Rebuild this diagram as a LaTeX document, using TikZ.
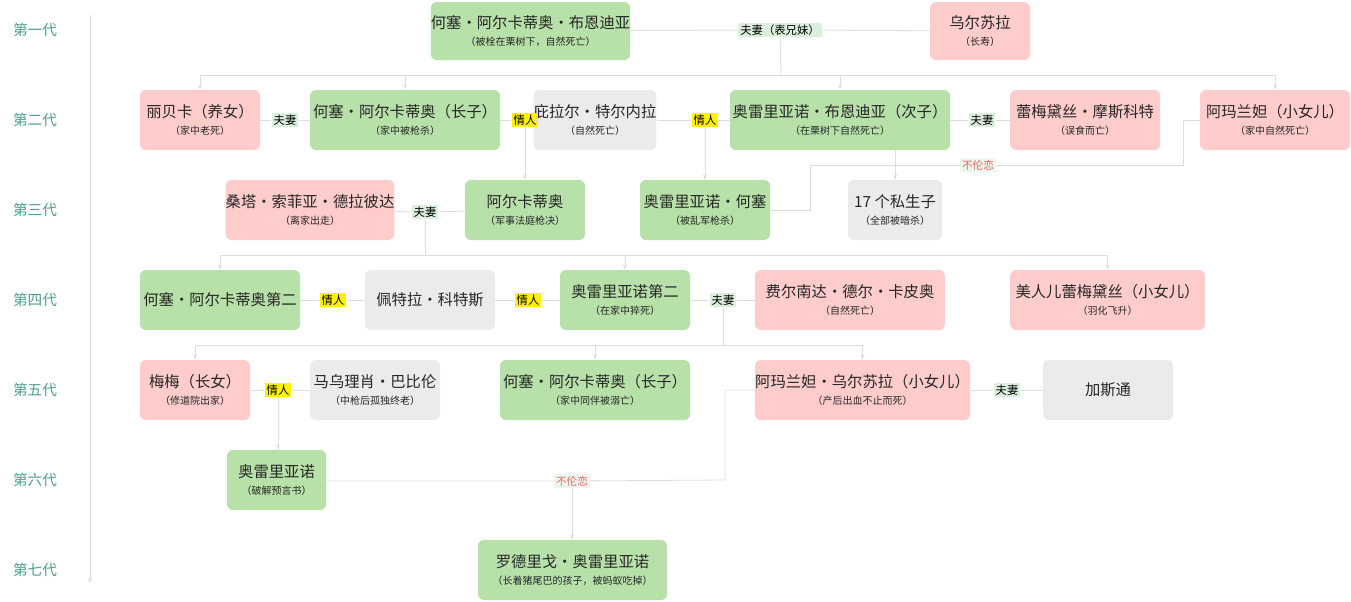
\documentclass[tikz,border=0pt]{standalone}
\usepackage{fontspec}
\setmainfont{Noto Sans CJK SC}
\usetikzlibrary{arrows.meta}
\definecolor{gn}{HTML}{B7E1A8}
\definecolor{pk}{HTML}{FFCCCC}
\definecolor{gy}{HTML}{EBEBEB}
\definecolor{ln}{HTML}{DDDDDD}
\definecolor{gen}{HTML}{4E9E8E}
\definecolor{mlbg}{HTML}{DCEEDC}
\definecolor{yl}{HTML}{FFF200}
\definecolor{rd}{HTML}{E06666}
\newcommand{\bx}[8]{\node[boxy,fill=#6,minimum width={(#4-#2)*0.75pt},minimum height={(#5-#3)*0.75pt}] (#1) at ({(#2+#4)/2},{(#3+#5)/2}) {\fontsize{11.5}{14}\selectfont #7\\[1pt]\fontsize{7.5}{9}\selectfont #8};}
\newcommand{\bxone}[7]{\node[boxy,fill=#6,minimum width={(#4-#2)*0.75pt},minimum height={(#5-#3)*0.75pt}] (#1) at ({(#2+#4)/2},{(#3+#5)/2}) {\fontsize{11.5}{14}\selectfont #7};}
\tikzset{
  boxy/.style={rounded corners=4.5pt,align=center,inner sep=0pt,text=black!85},
  ln/.style={draw=ln,line width=0.6pt},
  arr/.style={ln,-{Stealth[length=4pt,width=3pt]}},
  ml/.style={fill=mlbg,inner sep=1.5pt,font=\fontsize{8.5}{10}\selectfont},
  lv/.style={fill=yl,inner sep=1.5pt,font=\fontsize{8.5}{10}\selectfont},
  ic/.style={fill=mlbg!50,text=rd,inner sep=1.5pt,font=\fontsize{8}{10}\selectfont},
  gl/.style={text=gen,font=\fontsize{11}{13}\selectfont}
}
\begin{document}
\begin{tikzpicture}[x=0.75pt,y=-0.75pt]
\useasboundingbox[fill=white] (0,0) rectangle (1351,601);
% generation axis
\coordinate (ax1) at (90,15); \coordinate (ax2) at (90,583);
\draw[arr] (ax1) -- (ax2);
\foreach \t/\y in {第一代/30,第二代/120,第三代/210,第四代/300,第五代/390,第六代/480,第七代/570}
  \node[gl] at (35,\y) {\t};
% gen1
\bx{a}{431}{2}{630}{60}{gn}{何塞·阿尔卡蒂奥·布恩迪亚}{（被栓在栗树下，自然死亡）}
\bx{u}{930}{2}{1030}{60}{pk}{乌尔苏拉}{（长寿）}
% gen2
\bx{rb}{140}{90}{260}{150}{pk}{丽贝卡（养女）}{（家中老死）}
\bx{ja}{310}{90}{500}{150}{gn}{何塞·阿尔卡蒂奥（长子）}{（家中被枪杀）}
\bx{pt}{550}{90}{640}{150}{gy}{庇拉尔·特尔内拉}{（自然死亡）}
\bx{ab}{730}{90}{950}{150}{gn}{奥雷里亚诺·布恩迪亚（次子）}{（在栗树下自然死亡）}
\bx{rm}{1010}{90}{1160}{150}{pk}{蕾梅黛丝·摩斯科特}{（误食而亡）}
\bx{am}{1200}{90}{1350}{150}{pk}{阿玛兰妲（小女儿）}{（家中自然死亡）}
% gen3
\bx{st}{230}{180}{390}{240}{pk}{桑塔·索菲亚·德拉彼达}{（离家出走）}
\bx{ar}{465}{180}{585}{240}{gn}{阿尔卡蒂奥}{（军事法庭枪决）}
\bx{aj}{640}{180}{770}{240}{gn}{奥雷里亚诺·何塞}{（被乱军枪杀）}
\bx{s17}{848}{180}{942}{240}{gy}{17 个私生子}{（全部被暗杀）}
% gen4
\bxone{j2}{140}{270}{300}{330}{gn}{何塞·阿尔卡蒂奥第二}
\bxone{pc}{365}{270}{495}{330}{gy}{佩特拉·科特斯}
\bx{a2}{560}{270}{690}{330}{gn}{奥雷里亚诺第二}{（在家中猝死）}
\bx{fd}{755}{270}{945}{330}{pk}{费尔南达·德尔·卡皮奥}{（自然死亡）}
\bx{rb2}{1010}{270}{1205}{330}{pk}{美人儿蕾梅黛丝（小女儿）}{（羽化飞升）}
% gen5
\bx{mm}{140}{360}{250}{420}{pk}{梅梅（长女）}{（修道院出家）}
\bx{mb}{310}{360}{440}{420}{gy}{马乌理肖·巴比伦}{（中枪后孤独终老）}
\bx{j3}{500}{360}{690}{420}{gn}{何塞·阿尔卡蒂奥（长子）}{（家中同伴被溺亡）}
\bx{au}{755}{360}{970}{420}{pk}{阿玛兰妲·乌尔苏拉（小女儿）}{（产后出血不止而死）}
\bxone{gs}{1043}{360}{1173}{420}{gy}{加斯通}
% gen6,7
\bx{ao}{227}{450}{326}{510}{gn}{奥雷里亚诺}{（破解预言书）}
\bx{rd}{478}{540}{667}{600}{gn}{罗德里戈·奥雷里亚诺}{（长着猪尾巴的孩子，被蚂蚁吃掉）}
% gen1 marriage
\node[ml] (m1) at (780,30) {夫妻（表兄妹）};
\draw[ln] (a) -- (m1) -- (u);
\coordinate (j1) at (781,75);
\draw[ln] (m1) -- (j1);
\draw[ln] (rb.north |- j1) -- (am.north |- j1);
\foreach \t in {rb,ja,ab,am} \draw[arr] (\t.north |- j1) -- (\t.north);
% gen2 relations
\node[ml] (m2) at (285,120) {夫妻};
\draw[ln] (rb) -- (m2) -- (ja);
\node[lv] (l1) at (525,120) {情人};
\draw[ln] (ja) -- (l1) -- (pt);
\draw[arr] (l1) -- (ar.north);
\node[lv] (l2) at (705,120) {情人};
\draw[ln] (pt) -- (l2) -- (ab);
\draw[arr] (l2) -- (aj.north);
\node[ml] (m3) at (982,120) {夫妻};
\draw[ln] (ab) -- (m3) -- (rm);
\draw[arr] (ab.south -| s17.north) -- (s17.north);
\node[ic] (i1) at (978,165) {不伦恋};
\coordinate (c1) at (1183,120); \coordinate (c2) at (1183,165);
\coordinate (c3) at (810,165); \coordinate (c4) at (810,210);
\draw[ln] (am.west) -- (c1) -- (c2) -- (i1) -- (c3) -- (c4) -- (aj.east);
% gen3 marriage
\node[ml] (m4) at (425,212) {夫妻};
\draw[ln] (st) -- (m4) -- (ar);
\coordinate (j2c) at (420,255);
\draw[ln] (m4) -- (m4 |- j2c);
\draw[ln] (j2.north |- j2c) -- (rb2.north |- j2c);
\foreach \t in {j2,a2,rb2} \draw[arr] (\t.north |- j2c) -- (\t.north);
% gen4
\node[lv] (l3) at (333,300) {情人};
\draw[ln] (j2) -- (l3) -- (pc);
\node[lv] (l4) at (528,300) {情人};
\draw[ln] (pc) -- (l4) -- (a2);
\node[ml] (m5) at (723,300) {夫妻};
\draw[ln] (a2) -- (m5) -- (fd);
\coordinate (j3c) at (723,345);
\draw[ln] (m5) -- (j3c);
\draw[ln] (mm.north |- j3c) -- (au.north |- j3c);
\foreach \t in {mm,j3,au} \draw[arr] (\t.north |- j3c) -- (\t.north);
% gen5
\node[lv] (l5) at (278,390) {情人};
\draw[ln] (mm) -- (l5) -- (mb);
\draw[arr] (l5) -- (l5 |- ao.north);
\node[ml] (m6) at (1007,390) {夫妻};
\draw[ln] (au) -- (m6) -- (gs);
\node[ic] (i2) at (572,481) {不伦恋};
\coordinate (d1) at (725,390); \coordinate (d2) at (725,480);
\draw[ln] (au.west) -- (d1) -- (d2) -- (i2) -- (ao.east |- i2);
\draw[arr] (i2) -- (i2 |- rd.north);
\end{tikzpicture}
\end{document}
